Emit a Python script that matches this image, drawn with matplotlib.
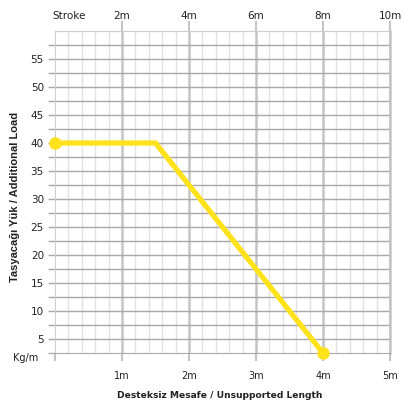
import matplotlib
matplotlib.use("Agg")
import matplotlib.pyplot as plt
from matplotlib.ticker import FixedLocator

# Data
length_m = [0, 1.5, 4]
load_kg = [40, 40, 2.5]
x_ticks = [1, 2, 3, 4, 5]
x_labels = ["1m", "2m", "3m", "4m", "5m"]
stroke_labels = ["2m", "4m", "6m", "8m", "10m"]
y_ticks = [5, 10, 15, 20, 25, 30, 35, 40, 45, 50, 55]

fig = plt.figure(figsize=(4.05, 4.09), dpi=100)
ax = fig.add_axes([55/405, 1-353/409, 335/405, 322/409])
ax.set_xlim(0, 5)
ax.set_ylim(2.5, 60)

minor_c = "#e2e2e2"
major_v = "#c4c4c4"
hcol = "#a8a8a8"

# minor verticals
for v in [i*0.2 for i in range(1, 25)]:
    if abs(v - round(v)) > 1e-6:
        ax.axvline(v, color=minor_c, lw=1.0, zorder=1)
for v in x_ticks:
    ax.axvline(v, color=major_v, lw=1.8, zorder=1.2)
for h in [2.5 + 2.5*i for i in range(1, 23)]:
    ax.axhline(h, color=hcol, lw=1.0, zorder=1.5)

ax.plot(length_m, load_kg, color="#FFE21C", lw=3.8, solid_capstyle="butt", zorder=3)
ax.plot([length_m[0], length_m[-1]], [load_kg[0], load_kg[-1]], "o", color="#FFE21C",
        ms=8, zorder=4, clip_on=False)

for s in ["left", "top"]:
    ax.spines[s].set_color("#cfcfcf")
ax.spines["right"].set_color(major_v)
ax.spines["right"].set_linewidth(1.8)
ax.spines["bottom"].set_color(hcol)

ax.xaxis.set_major_locator(FixedLocator([0] + x_ticks))
ax.set_xticklabels([""] + x_labels)
ax.tick_params(axis="x", which="major", direction="out", length=6, width=1.5,
               color=major_v, labelsize=7, pad=7, labelcolor="#222222")
ax.yaxis.set_major_locator(FixedLocator(y_ticks))
ax.yaxis.set_minor_locator(FixedLocator([2.5 + 5*i for i in range(0, 12)]))
ax.tick_params(axis="y", which="both", direction="out", length=5, width=1.0,
               color=hcol, labelsize=7.5, pad=3, labelcolor="#222222")

top = ax.secondary_xaxis("top")
top.set_xticks(x_ticks)
top.set_xticklabels(stroke_labels)
top.tick_params(direction="out", length=7, width=1.5, color=major_v, labelsize=7.5,
                pad=0, labelcolor="#222222")
top.spines["top"].set_color("#cfcfcf")

fig.text(52/405, 1-16/409, "Stroke", fontsize=7.5, ha="left", va="center", color="#222222")
fig.text(26/405, 1-358/409, "Kg/m", fontsize=7, ha="center", va="center", color="#222222")
fig.text(220/405, 1-396/409, "Desteksiz Mesafe / Unsupported Length", fontsize=6.6,
         fontweight="bold", ha="center", va="center", color="#222222")
fig.text(15/405, 1-197/409, "Tasyacağı Yük / Additional Load", fontsize=8.0,
         fontweight="bold", rotation=90, ha="center", va="center", color="#222222",
         family="Liberation Sans")

fig.savefig("out.png", dpi=100)
